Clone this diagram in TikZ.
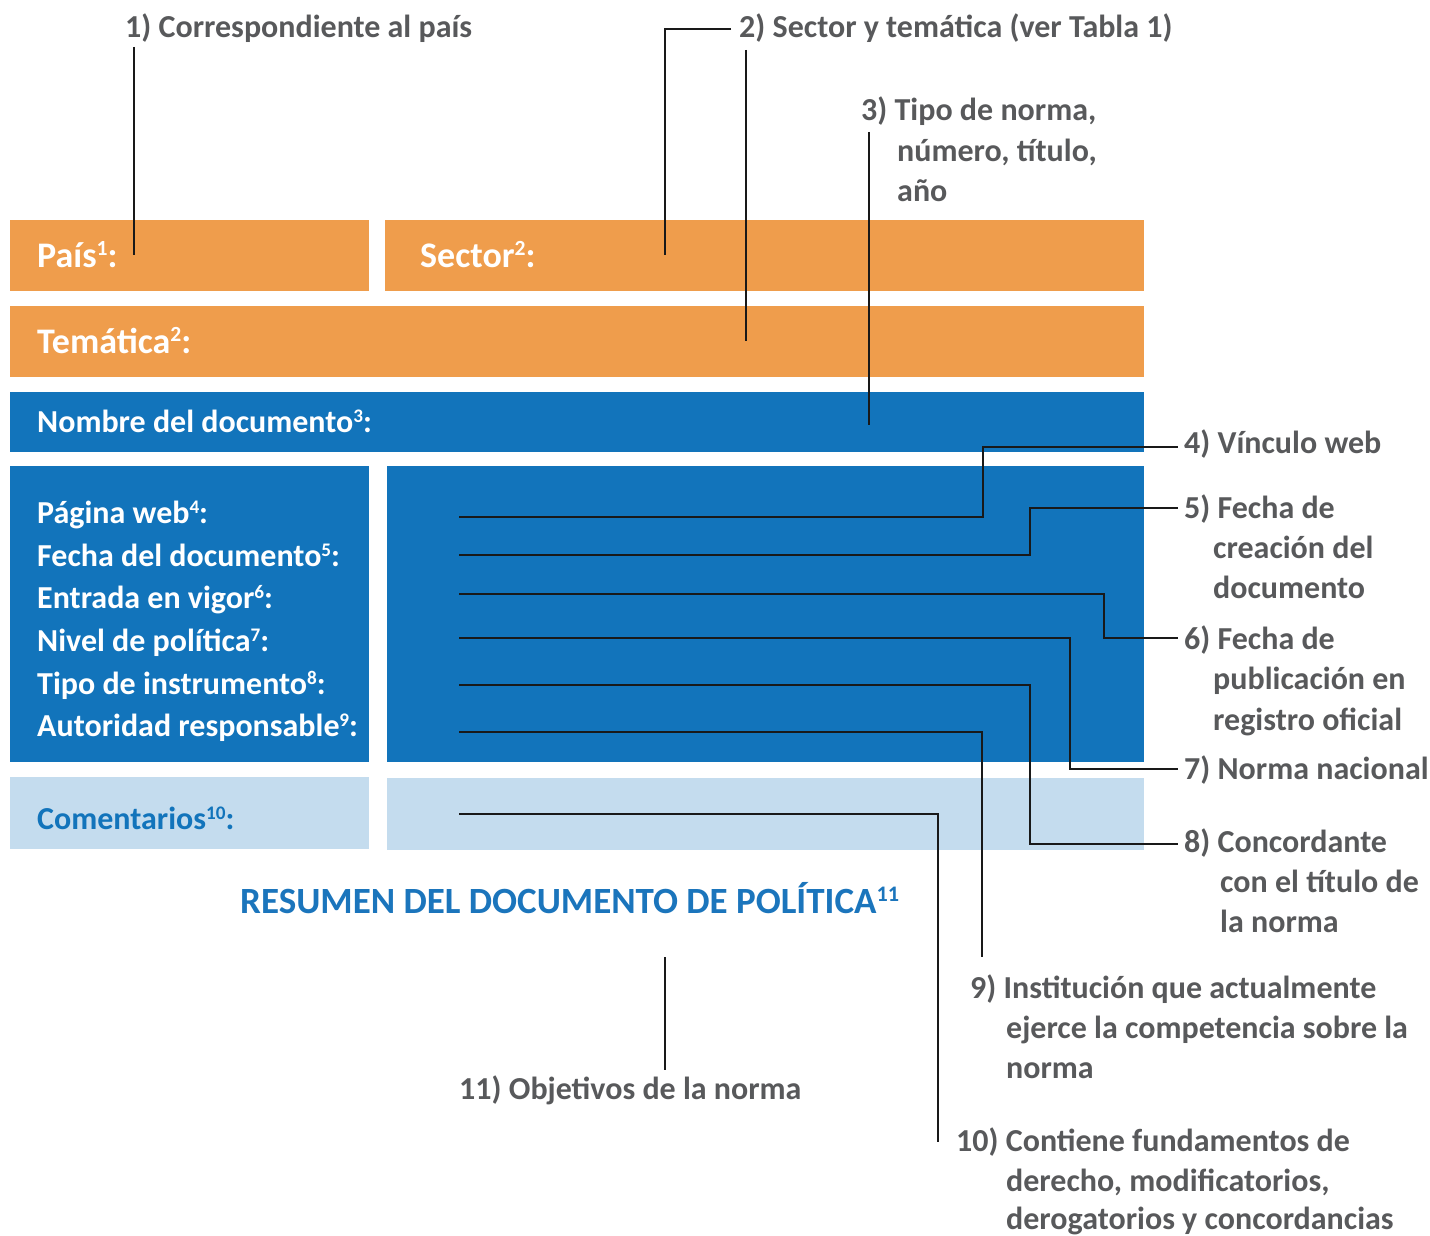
\documentclass[tikz,border=0pt]{standalone}
\usepackage{fontspec}
\setmainfont{Carlito}
\definecolor{orng}{HTML}{EF9D4C}
\definecolor{blu}{HTML}{1274BB}
\definecolor{lblu}{HTML}{C4DCEE}
\definecolor{gtxt}{HTML}{58595B}
\definecolor{ttl}{HTML}{1B75BC}
\newcommand{\sps}[1]{\raisebox{0.31em}{\scalebox{0.6}{#1}}}
\begin{document}
\begin{tikzpicture}[x=1pt,y=-1pt,
  panel/.style={anchor=north west, inner sep=0pt, outer sep=0pt, draw=none},
  big/.style={anchor=base west, inner sep=0pt, text=white, font=\fontsize{36}{40}\selectfont\bfseries},
  lbl/.style={anchor=base west, inner sep=0pt, text=white, font=\fontsize{32}{36}\selectfont\bfseries},
  note/.style={anchor=base west, inner sep=0pt, text=gtxt, font=\fontsize{32}{36}\selectfont\bfseries},
  lead/.style={line width=2.6pt, draw=black!90, line join=miter}]
\useasboundingbox (0,0) rectangle (1430,1236);
% panels
\node[panel, fill=orng, minimum width=359pt, minimum height=71pt] (paisbox) at (10,220) {};
\node[panel, fill=orng, minimum width=759pt, minimum height=71pt] (sectorbox) at (385,220) {};
\node[panel, fill=orng, minimum width=1134pt, minimum height=71pt] (tembox) at (10,306) {};
\node[panel, fill=blu, minimum width=1134pt, minimum height=60pt] (nombox) at (10,392) {};
\node[panel, fill=blu, minimum width=359pt, minimum height=296pt] (listbox) at (10,466) {};
\node[panel, fill=blu, minimum width=757pt, minimum height=296pt] (valbox) at (387,466) {};
\node[panel, fill=lblu, minimum width=359pt, minimum height=72pt] (combox) at (10,777) {};
\node[panel, fill=lblu, minimum width=757pt, minimum height=72pt] (comval) at (387,778) {};
% panel labels
\node[big] (pais) at (37,267) {País\sps{1}:};
\node[big] (sector) at (420,267) {Sector\sps{2}:};
\node[big] (tem) at (37,353) {Temática\sps{2}:};
\node[lbl] (nom) at (37,432) {Nombre del documento\sps{3}:};
\node[lbl] (web) at (37,523) {Página web\sps{4}:};
\node[lbl] (fecha) at (37,566) {Fecha del documento\sps{5}:};
\node[lbl] (entrada) at (37,608) {Entrada en vigor\sps{6}:};
\node[lbl] (nivel) at (37,651) {Nivel de política\sps{7}:};
\node[lbl] (tipo) at (37,694) {Tipo de instrumento\sps{8}:};
\node[lbl] (aut) at (37,736) {Autoridad responsable\sps{9}:};
\node[lbl, text=blu] (com) at (37,829) {Comentarios\sps{10}:};
\node[lbl, text=ttl, font=\fontsize{37}{40}\selectfont\bfseries] (title) at (240,913) {RESUMEN DEL DOCUMENTO DE POLÍTICA\sps{11}};
% notes
\node[note] (n1) at (125,38) {1) Correspondiente al país};
\node[note] (n2) at (739,38) {2) Sector y temática (ver Tabla 1)};
\node[note] (n3a) at (861,121) {3) Tipo de norma,};
\node[note] (n3b) at (897,161) {número, título,};
\node[note] (n3c) at (897,201) {año};
\node[note] (n4) at (1184,453) {4) Vínculo web};
\node[note] (n5a) at (1184,518) {5) Fecha de};
\node[note] (n5b) at (1213,558) {creación del};
\node[note] (n5c) at (1213,598) {documento};
\node[note] (n6a) at (1184,649) {6) Fecha de};
\node[note] (n6b) at (1213,689) {publicación en};
\node[note] (n6c) at (1213,730) {registro oficial};
\node[note] (n7) at (1184,779) {7) Norma nacional};
\node[note] (n8a) at (1184,852) {8) Concordante};
\node[note] (n8b) at (1220,892) {con el título de};
\node[note] (n8c) at (1220,932) {la norma};
\node[note] (n9a) at (970,998) {9) Institución que actualmente};
\node[note] (n9b) at (1006,1038) {ejerce la competencia sobre la};
\node[note] (n9c) at (1006,1078) {norma};
\node[note] (n10a) at (956,1151) {10) Contiene fundamentos de};
\node[note] (n10b) at (1006,1191) {derecho, modificatorios,};
\node[note] (n10c) at (1006,1229) {derogatorios y concordancias};
\node[note] (n11) at (459,1099) {11) Objetivos de la norma};
% connector end points
\coordinate (t1) at (134,47);   \coordinate (e1) at (134,255);
\coordinate (t2) at (731,29);   \coordinate (e2) at (665,255);
\coordinate (t2b) at (746,50);  \coordinate (e2b) at (746,341);
\coordinate (t3) at (869,132);  \coordinate (e3) at (869,425);
\coordinate (s4) at (459,517);  \coordinate (e4) at (1178,447);
\coordinate (s5) at (459,555);  \coordinate (e5) at (1178,508);
\coordinate (s6) at (459,594);  \coordinate (e6) at (1178,638);
\coordinate (s7) at (459,638);  \coordinate (e7) at (1178,769);
\coordinate (s8) at (459,685);  \coordinate (e8) at (1178,844);
\coordinate (s9) at (459,732);  \coordinate (e9) at (982,957);
\coordinate (s10) at (459,814); \coordinate (e10) at (938,1142);
\coordinate (t11) at (665,957); \coordinate (e11) at (665,1070);
% connectors
\draw[lead] (t1) -- (e1);
\draw[lead] (t2) -| (e2);
\draw[lead] (t2b) -- (e2b);
\draw[lead] (t3) -- (e3);
\draw[lead] (s4) -- ++(524,0) |- (e4);
\draw[lead] (s5) -- ++(571,0) |- (e5);
\draw[lead] (s6) -- ++(645,0) |- (e6);
\draw[lead] (s7) -- ++(611,0) |- (e7);
\draw[lead] (s8) -- ++(571,0) |- (e8);
\draw[lead] (s9) -| (e9);
\draw[lead] (s10) -| (e10);
\draw[lead] (t11) -- (e11);
\end{tikzpicture}
\end{document}
